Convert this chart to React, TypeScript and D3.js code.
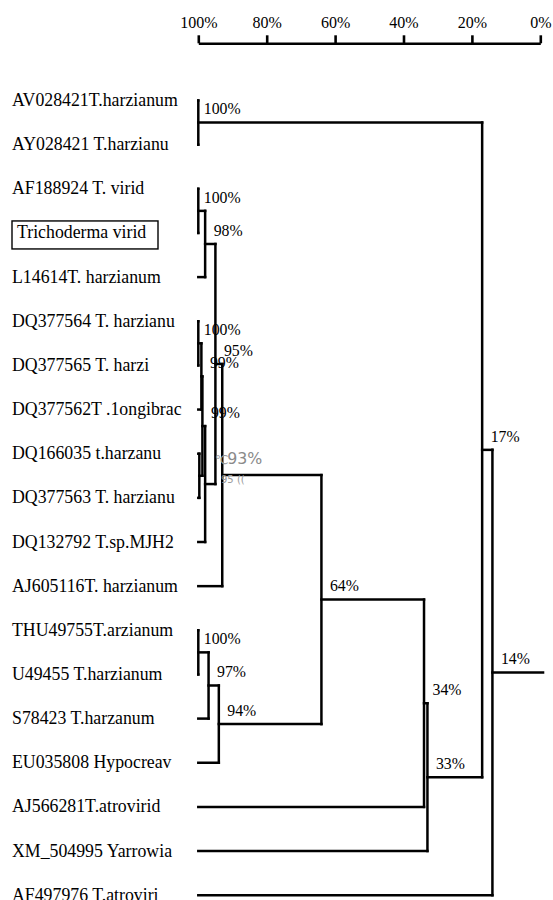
import React, { useEffect, useRef } from "react";
import * as d3 from "d3";

// ---- data ----
const leafNames = [
  "AV028421T.harzianum",
  "AY028421 T.harzianu",
  "AF188924 T. virid",
  "Trichoderma virid",
  "L14614T. harzianum",
  "DQ377564 T. harzianu",
  "DQ377565 T. harzi",
  "DQ377562T .1ongibrac",
  "DQ166035 t.harzanu",
  "DQ377563 T. harzianu",
  "DQ132792 T.sp.MJH2",
  "AJ605116T. harzianum",
  "THU49755T.arzianum",
  "U49455 T.harzianum",
  "S78423 T.harzanum",
  "EU035808 Hypocreav",
  "AJ566281T.atrovirid",
  "XM_504995 Yarrowia",
  "AF497976 T.atroviri",
];
const boxedLeaves = ["Trichoderma virid"];

// merges: children refer to leaf names or "m<index>"
const mergeLeft = ["AV028421T.harzianum", "AF188924 T. virid", "m1", "DQ377564 T. harzianu", "m3", "DQ166035 t.harzanu", "m4", "m6", "m2", "m8", "THU49755T.arzianum", "m10", "m11", "m9", "m13", "m14", "m0", "m16"];
const mergeRight = ["AY028421 T.harzianu", "Trichoderma virid", "L14614T. harzianum", "DQ377565 T. harzi", "DQ377562T .1ongibrac", "DQ377563 T. harzianu", "m5", "DQ132792 T.sp.MJH2", "m7", "AJ605116T. harzianum", "U49455 T.harzianum", "S78423 T.harzanum", "EU035808 Hypocreav", "m12", "AJ566281T.atrovirid", "XM_504995 Yarrowia", "m15", "AF497976 T.atroviri"];
const mergeSimilarity = [100, 100, 98, 100, 99.1, 99.7, 98.8, 98, 95, 93, 100, 97, 94, 64, 34, 33, 17, 14];
const mergeLabel = ["100%", "100%", "98%", "100%", "99%", "", "99%", "", "95%", "93%", "100%", "97%", "94%", "64%", "34%", "33%", "17%", "14%"];
const fadedLabels = ["93%"];

const axisTicks = [100, 80, 60, 40, 20, 0];

// ---- layout ----
const W = 553;
const H = 900;
const x = d3.scaleLinear().domain([100, 0]).range([198.3, 540.3]);
const y = d3.scalePoint<string>().domain(leafNames).range([100.5, 895.2]);

type Pos = { x: number; y: number };
const pos: Record<string, Pos> = {};
leafNames.forEach((n) => (pos[n] = { x: x(100), y: y(n)! }));
mergeSimilarity.forEach((s, i) => {
  const a = pos[mergeLeft[i]];
  const b = pos[mergeRight[i]];
  pos["m" + i] = { x: x(s), y: (a.y + b.y) / 2 };
});
const rootId = "m" + (mergeSimilarity.length - 1);

const serif = "'Liberation Serif', 'Times New Roman', serif";
const sans = "'DejaVu Sans', 'Liberation Sans', sans-serif";

export default function App() {
  const axisRef = useRef<SVGGElement>(null);
  useEffect(() => {
    if (!axisRef.current) return;
    const g = d3.select(axisRef.current);
    g.selectAll("*").remove();
    g.call(
      d3
        .axisTop(x)
        .tickValues(axisTicks)
        .tickSize(8)
        .tickSizeOuter(0)
        .tickPadding(7.3)
        .tickFormat((d) => `${d}%`)
    );
    g.select(".domain").attr("stroke", "#000").attr("stroke-width", 2.6);
    g.selectAll(".tick line").attr("stroke", "#000").attr("stroke-width", 2.6);
    g.selectAll(".tick text")
      .attr("fill", "#000")
      .style("font-family", serif)
      .style("font-size", "16px");
  }, []);

  const lineStyle = { stroke: "#000", strokeWidth: 2.5, strokeLinecap: "square" as const, fill: "none" };
  const root = pos[rootId];

  return (
    <svg
      width={W}
      height={H}
      style={{ position: "absolute", left: 0, top: 0, background: "#fff" }}
    >
      <rect width={W} height={H} fill="#fff" />
      <g ref={axisRef} transform="translate(0,43.3)" />

      {/* leaf labels */}
      {leafNames.map((n) => {
        const boxed = boxedLeaves.includes(n);
        return (
          <g key={n}>
            {boxed && (
              <rect x={12} y={y(n)! - 12} width={146} height={28} fill="none" stroke="#000" strokeWidth={1.4} />
            )}
            <text
              x={boxed ? 17 : 12}
              y={y(n)! + 5.5}
              fontFamily={serif}
              fontSize={17.8}
              fill="#000"
            >
              {n}
            </text>
          </g>
        );
      })}

      {/* tree */}
      {mergeSimilarity.map((s, i) => {
        const id = "m" + i;
        const p = pos[id];
        const a = pos[mergeLeft[i]];
        const b = pos[mergeRight[i]];
        return (
          <g key={id}>
            <line x1={p.x} x2={p.x} y1={a.y} y2={b.y} style={lineStyle} />
            <line x1={a.x} x2={p.x} y1={a.y} y2={a.y} style={lineStyle} />
            <line x1={b.x} x2={p.x} y1={b.y} y2={b.y} style={lineStyle} />
          </g>
        );
      })}
      <line x1={root.x} x2={x(-0.8)} y1={root.y} y2={root.y} style={lineStyle} />

      {/* faint garbled labels */}
      <text x={215} y={464} fontFamily={sans} fontSize={12} fill="#9a9a9a">℃</text>
      <text x={221} y={483} fontFamily={sans} fontSize={10} fill="#9a9a9a">95 ((</text>

      {/* node labels */}
      {mergeSimilarity.map((s, i) => {
        const lbl = mergeLabel[i];
        if (!lbl) return null;
        const p = pos["m" + i];
        const faded = fadedLabels.includes(lbl);
        return (
          <text
            key={"l" + i}
            x={p.x + (faded ? 5 : lbl === "100%" ? 5.5 : 8.5)}
            y={p.y - (faded ? 11 : 8.3)}
            fontFamily={faded ? sans : serif}
            fontSize={15.8}
            fill={faded ? "#8a8a8a" : "#000"}
          >
            {lbl}
          </text>
        );
      })}
    </svg>
  );
}
